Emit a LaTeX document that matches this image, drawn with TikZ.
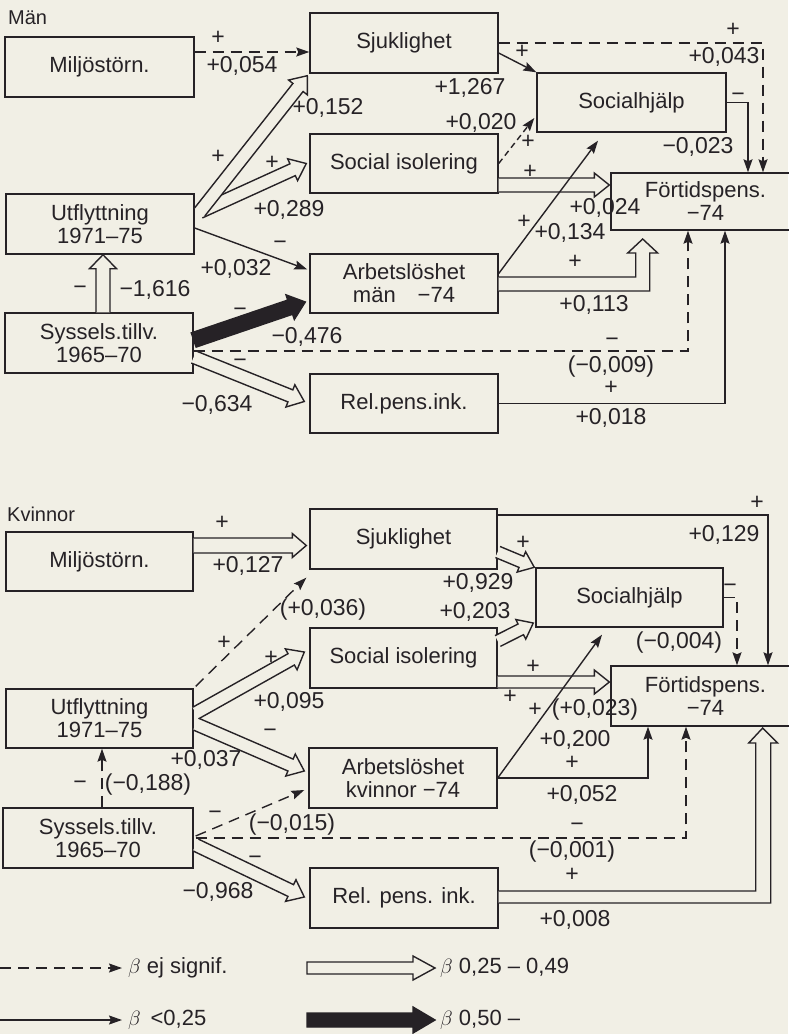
\documentclass[tikz,border=0pt]{standalone}
\usepackage{fontspec}
\setmainfont{Liberation Sans}
\usetikzlibrary{calc,arrows.meta}
\definecolor{ink}{RGB}{38,34,38}
\definecolor{paper}{RGB}{241,239,229}
\newcommand\getvec[2]{%
  \path let \p1=($(#2)-(#1)$) in \pgfextra{%
    \pgfmathsetmacro\vang{atan2(\y1,\x1)}\global\let\oaang\vang
    \pgfmathsetmacro\vlen{veclen(\x1,\y1)}\global\let\oalen\vlen};}
\newcommand\openarr[6][paper]{%
  \getvec{#2}{#3}%
  \begin{scope}[shift={(#2)},rotate=\oaang]
    \draw[oarrow,fill=#1] (0,-#4) -- ({\oalen-#6},-#4) -- ({\oalen-#6},-#5) -- (\oalen,0) -- ({\oalen-#6},#5) -- ({\oalen-#6},#4) -- (0,#4);
  \end{scope}}
\newcommand\blockarr[6][paper]{%
  \getvec{#2}{#3}%
  \begin{scope}[shift={(#2)},rotate=\oaang]
    \draw[oarrow,fill=#1] (0,-#4) -- ({\oalen-#6},-#4) -- ({\oalen-#6},-#5) -- (\oalen,0) -- ({\oalen-#6},#5) -- ({\oalen-#6},#4) -- (0,#4) -- cycle;
  \end{scope}}
\begin{document}
\begin{tikzpicture}[x=1pt,y=1pt,
  box/.style={draw=ink, line width=1.4pt, inner sep=0pt, align=center, font=\fontsize{22}{23}\selectfont, text=ink},
  lb/.style={inner sep=0pt, font=\fontsize{23}{25}\selectfont, text=ink},
  hd/.style={inner sep=0pt, anchor=west, font=\fontsize{20}{22}\selectfont, text=ink},
  lg/.style={inner sep=0pt, anchor=west, font=\fontsize{22}{24}\selectfont, text=ink},
  arr/.style={draw=ink, line width=1.4pt, -{Stealth[length=13pt,width=9pt,inset=2pt]}},
  dasharr/.style={arr, dash pattern=on 11pt off 7pt},
  shortdash/.style={arr, dash pattern=on 6pt off 4pt},
  oarrow/.style={draw=ink, line width=1.4pt, line join=miter}]
\fill[paper] (0,0) rectangle (788,-1034);
\useasboundingbox (0,0) rectangle (788,-1034);

% ---------------- Män ----------------
\node[hd] (hM) at (8,-18) {Män};
\node[box, minimum width=189pt, minimum height=60pt] (mM) at (99.5,-67) {Miljöstörn.};
\node[box, minimum width=188pt, minimum height=60pt] (mS) at (404,-43) {Sjuklighet};
\node[box, minimum width=188pt, minimum height=59pt] (mSI) at (404,-163.5) {Social isolering};
\node[box, minimum width=189pt, minimum height=59pt] (mSH) at (631.5,-102.5) {Socialhjälp};
\node[box, minimum width=189pt, minimum height=57pt] (mF) at (705.5,-201.5) {Förtidspens.\\−74};
\node[box, minimum width=188pt, minimum height=60pt] (mU) at (100,-224) {Utflyttning\\1971–75};
\node[box, minimum width=188pt, minimum height=59pt] (mA) at (404,-283.5) {Arbetslöshet\\män\quad −74};
\node[box, minimum width=188pt, minimum height=60pt] (mSy) at (99,-343) {Syssels.tillv.\\1965–70};
\node[box, minimum width=188pt, minimum height=59pt] (mR) at (404,-403.5) {Rel.pens.ink.};

\draw[dasharr] ([yshift=15pt]mM.east) -- ([yshift=-9pt]mS.west);
\coordinate (mu1) at ([xshift=5pt,yshift=12pt]mU.east);
\coordinate (ms1) at ([xshift=-2pt,yshift=-2pt]mS.south west);
\coordinate (msi1) at ([xshift=-3pt]mSI.west);
\openarr{mu1}{msi1}{6.5}{12}{15}
\openarr{mu1}{ms1}{6.5}{12}{15}
\draw[arr] ([yshift=-4pt]mU.east) -- ([xshift=-2pt,yshift=14pt]mA.west);
\coordinate (msy1) at ([xshift=4pt]mSy.north);
\coordinate (mu2) at ([xshift=3pt]mU.south);
\openarr{msy1}{mu2}{7}{13.5}{14}
\coordinate (msy3) at ([yshift=-14pt]mSy.east);
\coordinate (mr1) at ([xshift=-5pt,yshift=2pt]mR.west);
\openarr{msy3}{mr1}{6.5}{12}{15}
\draw[dasharr] ([yshift=-8pt]mSy.east) -| ([xshift=-17.5pt]mF.south);
\coordinate (msy2) at ([yshift=3pt]mSy.east);
\coordinate (ma1) at ([xshift=-4pt,yshift=-18.5pt]mA.west);
\blockarr[ink]{msy2}{ma1}{7.5}{13}{16}
\draw[arr] (mR.east) -| ([xshift=19.5pt]mF.south);
\draw[oarrow, fill=paper] ([yshift=6.5pt]mA.east) -- ++(137,0) -- ++(0,24) -- ++(-8,0) -- ++(15,14) -- ++(15,-14) -- ++(-8,0) -- ++(0,-38) -- ++(-151,0);
\coordinate (msi2) at ([yshift=-21.5pt]mSI.east);
\coordinate (mf1) at ([xshift=-1pt,yshift=16.5pt]mF.west);
\openarr{msi2}{mf1}{7}{12}{15}
\draw[arr] ([yshift=10pt]mA.east) -- ([xshift=-33.5pt,yshift=-8pt]mSH.south);
\draw[shortdash] (mSI.east) -- ([xshift=-2pt,yshift=-15.5pt]mSH.west);
\draw[arr] ([yshift=-10pt]mS.east) -- (mSH.north west);
\draw[dasharr] (mS.east) -| ([xshift=57.5pt]mF.north);
\draw[arr] (mSH.east) -| ([xshift=42.5pt]mF.north);

\node[lb] (a1) at (218,-38) {+};
\node[lb] (a2) at (242,-66) {+0,054};
\node[lb] (a3) at (328,-108) {+0,152};
\node[lb] (a4) at (218,-157) {+};
\node[lb] (a5) at (272,-163) {+};
\node[lb] (a6) at (289,-210) {+0,289};
\node[lb] (a7) at (280,-245) {−};
\node[lb] (a8) at (236,-269) {+0,032};
\node[lb] (a9) at (80,-290) {−};
\node[lb] (a10) at (155,-290) {−1,616};
\node[lb] (a11) at (240,-312) {−};
\node[lb] (a12) at (307,-337) {−0,476};
\node[lb] (a13) at (240,-363) {−};
\node[lb] (a14) at (217,-405) {−0,634};
\node[lb] (a15) at (612,-342) {−};
\node[lb] (a16) at (611,-367) {(−0,009)};
\node[lb] (a17) at (611,-388) {+};
\node[lb] (a18) at (611,-418) {+0,018};
\node[lb] (a19) at (575,-262) {+};
\node[lb] (a20) at (594,-305) {+0,113};
\node[lb] (a21) at (524,-222) {+};
\node[lb] (a22) at (570,-233) {+0,134};
\node[lb] (a23) at (530,-172) {+};
\node[lb] (a24) at (605,-208) {+0,024};
\node[lb] (a25) at (481,-123) {+0,020};
\node[lb] (a26) at (528,-142) {+};
\node[lb] (a27) at (522,-52) {+};
\node[lb] (a28) at (470,-88) {+1,267};
\node[lb] (a29) at (733,-30) {+};
\node[lb] (a30) at (724,-57) {+0,043};
\node[lb] (a31) at (738,-97) {−};
\node[lb] (a32) at (698,-147) {−0,023};

% ---------------- Kvinnor ----------------
\node[hd] (hK) at (7,-514) {Kvinnor};
\node[box, minimum width=187pt, minimum height=59pt] (kM) at (99.5,-561.5) {Miljöstörn.};
\node[box, minimum width=187pt, minimum height=60pt] (kS) at (403.5,-539) {Sjuklighet};
\node[box, minimum width=187pt, minimum height=60pt] (kSI) at (403.5,-658) {Social isolering};
\node[box, minimum width=187pt, minimum height=59pt] (kSH) at (629.5,-597.5) {Socialhjälp};
\node[box, minimum width=189pt, minimum height=60pt] (kF) at (705.5,-696) {Förtidspens.\\−74};
\node[box, minimum width=187pt, minimum height=59pt] (kU) at (99.5,-718.5) {Utflyttning\\1971–75};
\node[box, minimum width=188pt, minimum height=60pt] (kA) at (403,-778) {Arbetslöshet\\kvinnor −74};
\node[box, minimum width=190pt, minimum height=60pt] (kSy) at (98,-838) {Syssels.tillv.\\1965–70};
\node[box, minimum width=188pt, minimum height=60pt] (kR) at (404,-898) {Rel. pens. ink.};

\coordinate (km1) at ([yshift=16pt]kM.east);
\coordinate (ks1) at ([xshift=-3pt,yshift=-6.5pt]kS.west);
\openarr{km1}{ks1}{7.5}{12}{14}
\draw[dasharr] ([xshift=2pt,yshift=2pt]kU.north east) -- ([xshift=-3pt,yshift=-8pt]kS.south west);
\coordinate (ku1) at ([xshift=2pt,yshift=5.5pt]kU.east);
\coordinate (ksi1) at ([xshift=-5pt,yshift=6pt]kSI.west);
\coordinate (ku2) at ([xshift=2pt,yshift=-5.5pt]kU.east);
\coordinate (ka1) at ([xshift=-4pt,yshift=7pt]kA.west);
\openarr{ku2}{ka1}{6.5}{12}{15}
\openarr{ku1}{ksi1}{6.5}{12}{15}
\draw[dasharr] ([xshift=4pt]kSy.north) -- ([xshift=2.5pt]kU.south);
\coordinate (ksy1) at ([xshift=2pt,yshift=-7pt]kSy.east);
\coordinate (kr1) at ([xshift=-5pt,yshift=1pt]kR.west);
\openarr{ksy1}{kr1}{6.5}{12}{15}
\draw[dasharr] ([xshift=2pt,yshift=2pt]kSy.east) -- ([xshift=-4pt,yshift=-12pt]kA.west);
\draw[dasharr] ([xshift=2pt]kSy.east) -| ([xshift=-19.5pt]kF.south);
\draw[oarrow, fill=paper] ([yshift=7pt]kR.east) -- ++(257,0) -- ++(0,148) -- ++(-7,0) -- ++(14,15) -- ++(15,-15) -- ++(-7,0) -- ++(0,-160) -- ++(-272,0);
\draw[arr] (kA.east) -| ([xshift=-57.5pt]kF.south);
\coordinate (ksi2) at ([yshift=-24pt]kSI.east);
\coordinate (kf1) at ([xshift=-1pt,yshift=14pt]kF.west);
\openarr{ksi2}{kf1}{6}{12}{15}
\draw[arr] (kA.east) -- ([xshift=-27.5pt,yshift=-7pt]kSH.south);
\coordinate (ksi3) at ([yshift=17pt]kSI.east);
\coordinate (ksh1) at ([xshift=-2pt,yshift=-25.5pt]kSH.west);
\openarr{ksi3}{ksh1}{6}{11}{14}
\coordinate (ks2) at ([yshift=-13pt]kS.east);
\coordinate (ksh2) at ([xshift=-1pt]kSH.north west);
\openarr{ks2}{ksh2}{6}{11}{14}
\draw[arr] ([yshift=24pt]kS.east) -| ([xshift=62.5pt]kF.north);
\draw[dasharr] (kSH.east) -| ([xshift=31.5pt]kF.north);

\node[lb] (b1) at (222,-523) {+};
\node[lb] (b2) at (248,-566) {+0,127};
\node[lb] (b3) at (323,-610) {(+0,036)};
\node[lb] (b4) at (224,-643) {+};
\node[lb] (b5) at (271,-658) {+};
\node[lb] (b6) at (289,-702) {+0,095};
\node[lb] (b7) at (270,-733) {−};
\node[lb] (b8) at (206,-760) {+0,037};
\node[lb] (b9) at (80,-785) {−};
\node[lb] (b10) at (148,-785) {(−0,188)};
\node[lb] (b11) at (215,-815) {−};
\node[lb] (b12) at (292,-825) {(−0,015)};
\node[lb] (b13) at (577,-827) {−};
\node[lb] (b14) at (572,-852) {(−0,001)};
\node[lb] (b15) at (255,-860) {−};
\node[lb] (b16) at (218,-892) {−0,968};
\node[lb] (b17) at (572,-875) {+};
\node[lb] (b18) at (575,-920) {+0,008};
\node[lb] (b19) at (572,-763) {+};
\node[lb] (b20) at (582,-795) {+0,052};
\node[lb] (b21) at (510,-697) {+};
\node[lb] (b22) at (535,-710) {+};
\node[lb] (b23) at (595,-710) {(+0,023)};
\node[lb] (b24) at (575,-740) {+0,200};
\node[lb] (b25) at (533,-667) {+};
\node[lb] (b26) at (475,-612) {+0,203};
\node[lb] (b27) at (523,-543) {+};
\node[lb] (b28) at (478,-583) {+0,929};
\node[lb] (b29) at (757,-503) {+};
\node[lb] (b30) at (724,-535) {+0,129};
\node[lb] (b31) at (730,-588) {−};
\node[lb] (b32) at (679,-643) {(−0,004)};

% ---------------- legend ----------------
\coordinate (g1a) at (0,-968);
\coordinate (g1b) at (122,-968);
\draw[dasharr] (g1a) -- (g1b);
\node[lg] (g1t) at (128,-968) {$\beta$ ej signif.};
\coordinate (g2a) at (307,-968);
\coordinate (g2b) at (435,-968);
\blockarr{g2a}{g2b}{6}{12}{22}
\node[lg] (g2t) at (440,-968) {$\beta$ 0,25 – 0,49};
\coordinate (g3a) at (0,-1020);
\coordinate (g3b) at (122,-1020);
\draw[arr] (g3a) -- (g3b);
\node[lg] (g3t) at (128,-1020) {$\beta$ \,<0,25};
\coordinate (g4a) at (307,-1020);
\coordinate (g4b) at (435,-1020);
\blockarr[ink]{g4a}{g4b}{7}{13}{22}
\node[lg] (g4t) at (440,-1020) {$\beta$ 0,50 –};
\end{tikzpicture}
\end{document}
